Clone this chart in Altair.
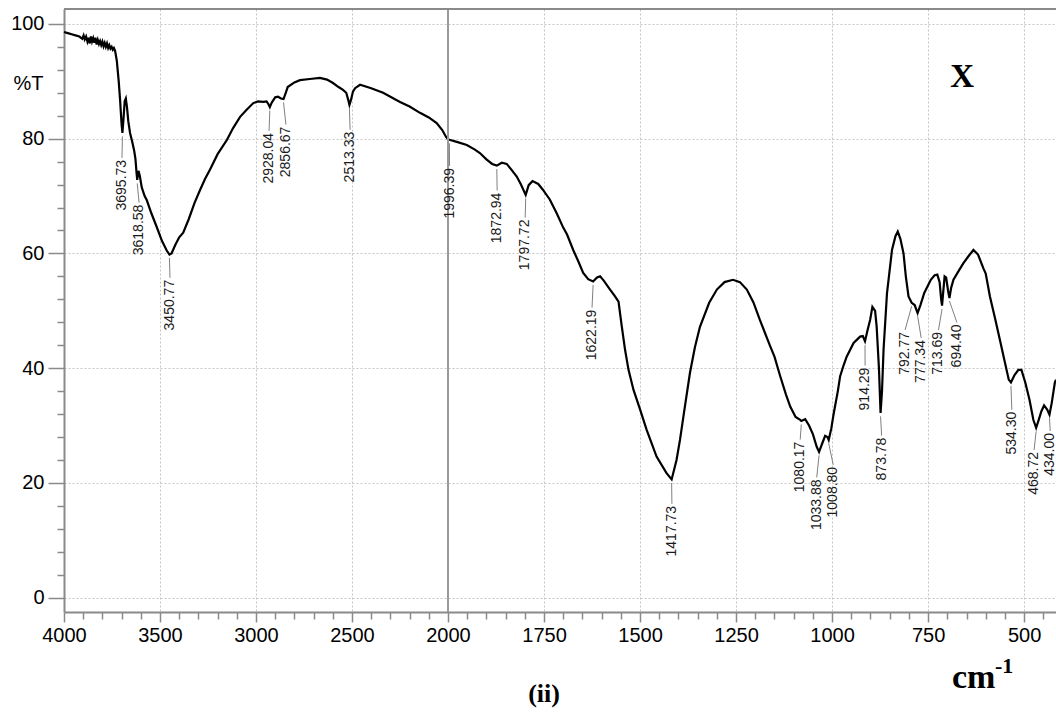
import altair as alt
import pandas as pd

# ---------------- data ----------------
wavenumber = [
    4000, 3980, 3960, 3940, 3920, 3905, 3898, 3892, 3885, 3878, 3872, 3866, 3860, 3854,
    3848, 3842, 3836, 3830, 3824, 3818, 3812, 3806, 3800, 3794, 3788, 3782, 3776, 3770,
    3764, 3758, 3752, 3746, 3740, 3734, 3725, 3715, 3708, 3700, 3695.73, 3690, 3684,
    3678, 3672, 3665, 3656, 3645, 3635, 3628, 3622, 3618.58, 3612, 3605, 3595, 3580,
    3569, 3545, 3517, 3490, 3465, 3450.77, 3440, 3420, 3400, 3379, 3350, 3320, 3292,
    3265, 3240, 3200, 3151, 3120, 3083, 3050, 3014, 2990, 2962, 2945, 2935, 2928.04,
    2918, 2900, 2885, 2870, 2856.67, 2845, 2835, 2800, 2771, 2720, 2667, 2630, 2599,
    2570, 2547, 2530, 2520, 2513.33, 2505, 2495, 2484, 2458, 2400, 2338, 2300, 2250,
    2200, 2146, 2100, 2059, 2030, 2010, 2000, 1996.39, 1975, 1951, 1930, 1917, 1900,
    1885, 1872.94, 1860, 1847, 1835, 1821, 1810, 1797.72, 1790, 1780, 1765, 1753, 1735,
    1717, 1700, 1690, 1674, 1660, 1648, 1635, 1622.19, 1612, 1604, 1595, 1578, 1566,
    1556, 1548, 1539, 1530, 1517, 1500, 1483, 1457, 1431, 1417.73, 1405, 1396, 1385, 1370,
    1357, 1344, 1320, 1300, 1280, 1258, 1240, 1222, 1205, 1188, 1161, 1150, 1135, 1120,
    1109, 1095, 1083, 1080.17, 1070, 1060, 1050, 1040, 1033.88, 1025, 1018, 1012,
    1008.80, 1002, 996, 985, 979, 970, 962, 944, 927, 920, 914.29, 908, 901, 895, 888,
    884, 878, 873.78, 870, 866, 857, 844, 835, 829, 822, 814, 808, 801, 792.77, 785,
    777.34, 770, 760, 743, 733, 726, 720, 716, 713.69, 711, 707, 703, 698, 694.40, 690,
    684, 670, 658, 645, 632, 620, 606, 600, 589, 575, 563, 550, 540, 534.30, 525, 515,
    507, 497, 486, 476, 468.72, 462, 455, 448, 440, 434.00, 428, 420, 417,
]
transmittance = [
    98.6, 98.4, 98.2, 98.0, 97.8, 97.4, 98.0, 97.3, 97.8, 96.9, 97.6, 96.6, 97.8, 96.9,
    97.5, 96.7, 97.6, 96.4, 97.2, 96.5, 97.0, 96.3, 96.9, 96.1, 96.7, 96.0, 96.6, 95.8,
    96.3, 95.7, 96.0, 95.5, 95.8, 95.3, 93.6, 90.0, 86.8, 82.5, 81.0, 83.5, 86.5,
    87.0, 85.5, 83.0, 81.0, 79.5, 78.0, 76.5, 74.0, 72.8, 74.4, 73.5, 71.5, 70.0,
    69.3, 67.0, 64.6, 62.2, 60.5, 59.8, 60.0, 61.5, 62.8, 63.6, 66.0, 68.8, 71.0,
    73.0, 74.6, 77.3, 79.8, 81.8, 83.8, 85.0, 86.2, 86.5, 86.4, 86.5, 86.0, 85.5,
    86.3, 87.2, 87.3, 87.0, 86.9, 88.0, 89.0, 89.8, 90.2, 90.4, 90.6, 90.3, 89.7,
    89.0, 88.5, 88.0, 86.8, 85.9, 86.8, 88.2, 88.8, 89.4, 88.8, 88.0, 87.3, 86.4,
    85.6, 84.5, 83.7, 82.7, 81.5, 80.3, 79.9, 79.8, 79.4, 78.9, 78.1, 77.5, 76.4,
    75.6, 75.3, 75.8, 75.6, 74.6, 73.4, 72.0, 70.2, 71.9, 72.6, 72.1, 71.1, 69.4,
    67.0, 64.5, 63.3, 60.6, 58.5, 56.6, 55.5, 55.1, 55.8, 56.0, 55.3, 53.7, 52.6,
    51.6, 47.5, 43.2, 39.7, 36.2, 32.8, 29.3, 24.6, 21.7, 20.6, 24.0, 27.5, 32.5, 39.2,
    43.7, 47.2, 51.4, 53.7, 55.0, 55.4, 55.0, 53.7, 51.5, 48.4, 43.8, 42.0, 38.6, 35.4,
    33.3, 31.5, 31.0, 30.8, 31.1, 30.0, 28.5, 26.3, 25.4, 27.0, 28.2, 28.0,
    27.5, 29.5, 32.0, 36.0, 38.6, 40.5, 42.0, 44.4, 45.5, 45.6, 44.7, 46.5, 48.4, 50.7, 50.0,
    47.3, 40.0, 32.2, 36.0, 43.2, 53.1, 60.6, 63.0, 63.8, 62.5, 60.0, 56.0, 52.5, 51.4, 51.0,
    49.6, 51.0, 53.1, 55.4, 56.2, 56.3, 55.0, 52.0, 50.9, 53.0, 56.0, 55.8, 53.5, 52.2, 54.0,
    55.4, 57.0, 58.3, 59.5, 60.6, 59.8, 57.4, 56.5, 52.5, 48.5, 44.9, 41.0, 38.0, 37.5, 38.8, 39.7,
    39.7, 37.5, 34.5, 31.0, 29.6, 31.0, 32.5, 33.5, 32.8, 31.9, 34.0, 37.5, 38.0,
]

peak_text = ["3695.73", "3618.58", "3450.77", "2928.04", "2856.67", "2513.33",
             "1996.39", "1872.94", "1797.72", "1622.19", "1417.73", "1080.17",
             "1033.88", "1008.80", "914.29", "873.78", "792.77", "777.34",
             "713.69", "694.40", "534.30", "468.72", "434.00"]
peak_T = [81.0, 72.8, 59.8, 85.5, 86.9, 85.9, 79.8, 75.3, 70.2, 55.1, 20.6, 30.8,
          25.4, 27.5, 44.6, 32.2, 51.4, 49.7, 50.9, 52.3, 37.5, 29.6, 31.9]
label_wn = [3698, 3609, 3448, 2932, 2844, 2510, 1996, 1872, 1799, 1625, 1417, 1083,
            1040, 997, 914, 871, 810, 768, 723, 675, 532, 474, 432]
label_T = [76.3, 68.5, 55.4, 81.0, 82.1, 81.2, 74.9, 70.6, 65.9, 50.2, 16.0, 27.2,
           20.6, 22.8, 40.1, 27.9, 46.3, 44.9, 46.3, 47.6, 32.4, 25.4, 28.7]

x_major = [4000, 3500, 3000, 2500, 2000, 1750, 1500, 1250, 1000, 750, 500]
x_ticks = list(range(4000, 1999, -100)) + list(range(1950, 449, -50))
y_ticks = list(range(0, 101, 4))

# ---------------- chart ----------------
W, H = 992, 603
AXIS_GRAY = "#8a8a8a"
SANS = "Liberation Sans"
SERIF = "Liberation Serif"

curve = pd.DataFrame({"wn": wavenumber, "T": transmittance})
peaks = pd.DataFrame({"txt": peak_text,
                      "pw": [float(s) for s in peak_text],
                      "pt": peak_T, "lw": label_wn, "lt": label_T})
peaks["pt0"] = peaks["pt"] - 0.6
peaks["lt0"] = peaks["lt"] + 0.35

xscale = alt.Scale(domain=[4000, 2000, 417], range=[0, 384, W], nice=False, zero=False)
yscale = alt.Scale(domain=[-2.5, 102.6], nice=False, zero=False)

x_is_major = "(" + " || ".join(f"datum.value == {v}" for v in x_major) + ")"
x_grid = "(" + " || ".join(f"datum.value == {v}" for v in x_major if v not in (4000, 2000)) + ")"

x_axis = alt.Axis(
    values=x_ticks, tickCount=500, format="d", title=None,
    labelExpr=f"{x_is_major} ? datum.label : ''",
    labelFont=SANS, labelFontSize=20, labelColor="black", labelPadding=3,
    labelOverlap=False, labelFlush=False,
    tickSize={"condition": {"test": x_is_major, "value": 10}, "value": 7},
    tickColor=AXIS_GRAY, tickWidth=1.5,
    domainColor=AXIS_GRAY, domainWidth=2,
    grid=True, gridColor="#c4c4c4", gridDash=[2, 2], gridWidth=1,
    gridOpacity={"condition": {"test": x_grid, "value": 1}, "value": 0},
)
y_axis = alt.Axis(
    values=y_ticks, tickCount=500, format="d",
    title="%T", titleAngle=0, titleX=-51, titleY=74, titleAlign="left",
    titleBaseline="middle", titleFont=SANS, titleFontSize=20,
    titleFontWeight="normal", titleColor="black",
    labelExpr="datum.value % 20 == 0 ? datum.label : ''",
    labelFont=SANS, labelFontSize=20, labelColor="black", labelPadding=4,
    labelOverlap=False,
    tickSize={"condition": {"test": "datum.value % 20 == 0", "value": 16}, "value": 7},
    tickColor=AXIS_GRAY, tickWidth=1.5,
    domainColor=AXIS_GRAY, domainWidth=2,
    grid=True, gridColor="#c4c4c4", gridDash=[2, 2], gridWidth=1,
    gridOpacity={"condition": {"test": "datum.value % 20 == 0", "value": 1}, "value": 0},
)

line = alt.Chart(curve).mark_line(color="black", strokeWidth=2.2).encode(
    x=alt.X("wn:Q", scale=xscale, axis=x_axis),
    y=alt.Y("T:Q", scale=yscale, axis=y_axis),
)

split = alt.Chart(pd.DataFrame({"wn": [2000]})).mark_rule(
    color="#9a9a9a", strokeWidth=2).encode(x="wn:Q")

top_border = alt.Chart(pd.DataFrame({"a": [0]})).mark_rule(
    color=AXIS_GRAY, strokeWidth=2).encode(
    x=alt.value(0), x2=alt.value(W), y=alt.value(0))

leaders = alt.Chart(peaks).mark_rule(color="#808080", strokeWidth=1).encode(
    x="pw:Q", x2="lw:Q", y="pt0:Q", y2="lt0:Q")

labels = alt.Chart(peaks).mark_text(
    angle=270, align="right", baseline="middle", font=SANS, fontSize=14,
    color="#1a1a1a").encode(x="lw:Q", y="lt:Q", text="txt:N")

mark_x = alt.Chart(pd.DataFrame({"wn": [661], "T": [90.8], "t": ["X"]})).mark_text(
    font=SERIF, fontSize=33, fontWeight="bold", color="black",
    align="center", baseline="middle").encode(x="wn:Q", y="T:Q", text="t:N")

panel = alt.Chart(pd.DataFrame({"t": ["(ii)"]})).mark_text(
    font=SERIF, fontSize=26, fontWeight="bold", color="black",
    align="center", baseline="alphabetic").encode(
    x=alt.value(480), y=alt.value(693), text="t:N")

unit = alt.Chart(pd.DataFrame({"t": ["cm"]})).mark_text(
    font=SERIF, fontSize=34, fontWeight="bold", color="black",
    align="left", baseline="alphabetic").encode(
    x=alt.value(888), y=alt.value(679), text="t:N")

unit_sup = alt.Chart(pd.DataFrame({"t": ["-1"]})).mark_text(
    font=SERIF, fontSize=22, fontWeight="bold", color="black",
    align="left", baseline="alphabetic").encode(
    x=alt.value(931), y=alt.value(664), text="t:N")

chart = alt.layer(
    line, split, top_border, leaders, labels, mark_x, panel, unit, unit_sup
).properties(
    width=W, height=H,
    autosize=alt.AutoSizeParams(type="none"),
    padding={"left": 64, "top": 9, "right": 0, "bottom": 100},
    background="white",
).configure_view(strokeWidth=0)

chart.save("out.html", embed_options={"renderer": "svg", "actions": False})
